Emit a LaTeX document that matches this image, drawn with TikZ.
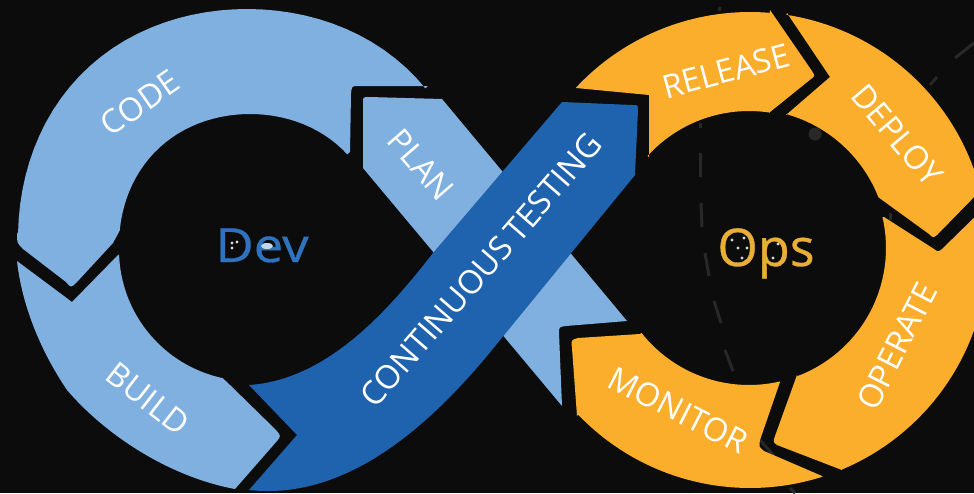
\documentclass[tikz,border=0pt]{standalone}
\usepackage{fontspec}
\setmainfont{Open Sans}
\definecolor{bgk}{HTML}{0C0C0C}
\definecolor{lblue}{HTML}{7FB0E0}
\definecolor{dblue}{HTML}{1F62AE}
\definecolor{amber}{HTML}{FBAE2B}
\definecolor{faint}{HTML}{282828}
\definecolor{devblue}{HTML}{2F72BE}
\definecolor{opsgold}{HTML}{E8AE35}
\tikzset{
  arcp/.style n args={6}{insert path={-- plot[domain=#5:#6,samples=40] ({#1+(#3+#4*sin(2*\x)*sin(2*\x))*cos(\x)},{#2+(#3+#4*sin(2*\x)*sin(2*\x))*sin(\x)})}},
  lbl/.style={text=white,font=\fontsize{16.3}{18}\selectfont,inner sep=0pt},
  dashline/.style={draw=faint,line width=1.5pt}
}
\begin{document}
\begin{tikzpicture}[x=0.5pt,y=-0.5pt]
\path[use as bounding box,fill=bgk] (0,0) rectangle (974,493);
\clip (0,0) rectangle (974,493);
% faint background line
\foreach \a/\b in {{720,7}/{719,11},{700,123}/{700,128},{700,153}/{700,177},{701,203}/{702,227},{705,253}/{709,276},{714,301}/{721,323},{725,350}/{733,371},{760,440}/{774,456},{790,488}/{795,493},{955,58}/{974,43},{930,85}/{937,77},{890,213}/{890,220}}
  \draw[dashline] (\a) -- (\b);
\fill[faint] (815,134) circle (6.5);
% CODE
\fill[lblue] (66,282) .. controls (71,288) .. (77,282) -- (113,243) -- (120,230)
  [arcp={250}{245}{131}{2}{187}{317}] -- (350,152)
  -- (351,93) .. controls (352,86) .. (358,86) -- (428,86)
  [arcp={247}{238}{229}{4}{320}{181.5}]
  -- (17,234) .. controls (17,243) .. (23,249) -- cycle;
% BUILD
\fill[lblue] (17,261) -- (72,302) -- (118,255)
  [arcp={250}{250}{131}{0}{178}{102}]
  -- (230,385) -- (276,430) .. controls (281,436) .. (277,441) -- (235,489)
  .. controls (175,478) and (110,440) .. (67,390)
  .. controls (40,350) and (22,305) .. (17,261) -- cycle;
% PLAN
\fill[lblue] (363,168) -- (363,103) .. controls (363,97) .. (369,97) -- (442,99)
  -- (627,321) -- (566,326) .. controls (559,327) .. (559,333) -- (562,406) -- cycle;
% TESTING
\fill[dblue] (249,385) -- (297,435) -- (249,490)
  .. controls (340,500) and (420,436) .. (487,356)
  -- (635,175) -- (638,110) .. controls (638,105) .. (632,105) -- (562,102)
  -- (433,253) .. controls (385,315) and (325,380) .. (249,385) -- cycle;
% RELEASE
\fill[amber] (576,88) -- (649,95) -- (649,157)
  [arcp={749}{248}{137}{0}{222.3}{278.8}] -- (770,112)
  -- (811,79) .. controls (815,76) .. (812,71) -- (770,10)
  [arcp={750}{250}{238}{0}{274.8}{223}] -- cycle;
% DEPLOY
\fill[amber] (787,13) -- (830,77) -- (786,115)
  [arcp={749}{248}{139}{0}{-74.5}{-21.4}]
  -- (929,234) .. controls (933,238) .. (937,235) -- (981,190)
  [arcp={750}{250}{238}{0}{-14.6}{-81.2}] -- cycle;
% OPERATE
\fill[amber] (884,217) -- (934,249) .. controls (938,252) .. (942,249) -- (985,207)
  [arcp={750}{250}{238}{0}{-10}{67.3}] -- (842,470)
  -- (777,445) .. controls (773,442) .. (775,436) -- (797,375)
  [arcp={749}{248}{137}{0}{69.3}{-13}] -- cycle;
% MONITOR
\fill[amber] (572,348) .. controls (571,340) .. (578,338) -- (640,334)
  [arcp={749}{248}{137}{0}{141.7}{77}] -- (780,382)
  -- (760,440) .. controls (759,447) .. (764,451) -- (822,476)
  [arcp={750}{250}{238}{0}{72.3}{136.2}] -- (577,416) -- cycle;
% labels
\node[lbl,rotate=35] (code) at (140,103) {CODE};
\node[lbl,rotate=-38] (build) at (148,399) {BUILD};
\node[lbl,rotate=-49] (plan) at (421,165) {PLAN};
\node[lbl,rotate=49,font=\fontsize{16.4}{20}\selectfont] (test) at (481,270) {CONTINUOUS\hspace{-0.08em} TESTING};
\node[lbl,rotate=15] (release) at (726,71) {RELEASE};
\node[lbl,rotate=-50] (deploy) at (897,135) {DEPLOY};
\node[lbl,rotate=63] (operate) at (897,346) {OPERATE};
\node[lbl,rotate=-27] (monitor) at (678,410) {MONITOR};
\node[anchor=base,inner sep=0pt,xscale=1.12,font=\fontsize{23.5}{28}\selectfont\addfontfeature{FakeBold=0.6},text=devblue] (dev) at (262,262) {Dev};
\node[anchor=base,inner sep=0pt,font=\fontsize{26}{30}\selectfont\addfontfeature{FakeBold=0.6},text=opsgold] (ops) at (766,266) {Ops};
% specks on the lettering
\foreach \p in {{232,243},{232,248},{237,242},{732,240},{744,238},{738,248},{747,248},{742,258},{773,258},{778,244}}
  \fill[white!85!black] (\p) circle (1.6);
\fill[white!70!devblue] (267,246) ellipse (6 and 3);
\end{tikzpicture}
\end{document}
